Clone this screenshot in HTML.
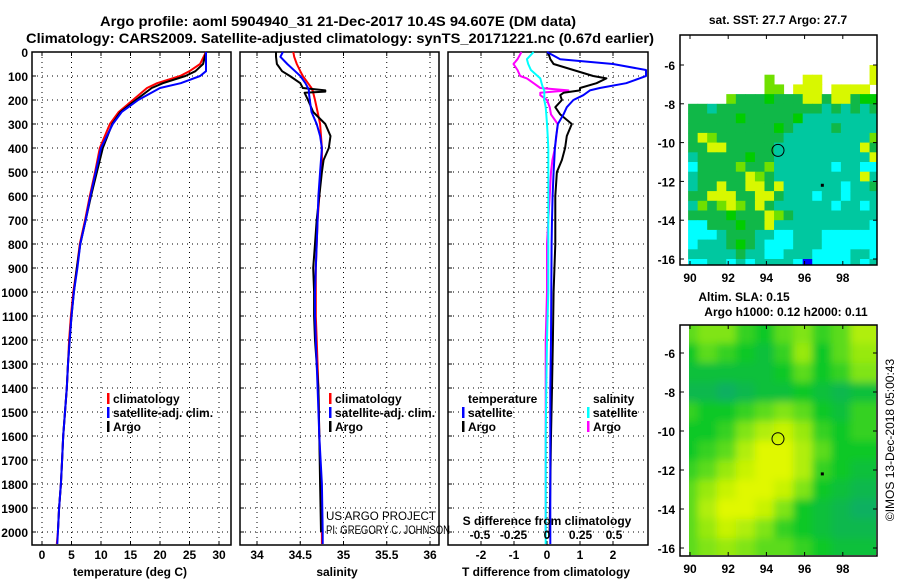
<!DOCTYPE html>
<html><head><meta charset="utf-8">
<style>
html,body{margin:0;padding:0;background:#fff;}
svg{display:block;font-family:"Liberation Sans",sans-serif;}
.b{font-weight:bold;font-size:12px;}
</style></head>
<body>
<svg id="fig" width="900" height="580" viewBox="0 0 900 580">
<text x="338" y="26" text-anchor="middle" font-weight="bold" font-size="14" textLength="476" lengthAdjust="spacingAndGlyphs">Argo profile: aoml 5904940_31 21-Dec-2017 10.4S 94.607E (DM data)</text>
<text x="340" y="43" text-anchor="middle" font-weight="bold" font-size="14" textLength="628" lengthAdjust="spacingAndGlyphs">Climatology: CARS2009. Satellite-adjusted climatology: synTS_20171221.nc (0.67d earlier)</text>
<g id="layer"></g>
</svg>
<script>
// ---------- data ----------
const depthT = [0,50,80,100,130,150,200,250,300,400,500,600,700,800,900,1000,1100,1200,1300,1400,1500,1600,1700,1800,1900,2000,2050];
const tempClim = [27.8,26.8,25,23.4,19.5,17.8,15.4,13,11.5,9.8,9.0,8.1,7.3,6.4,5.9,5.3,4.9,4.6,4.4,4.2,3.9,3.6,3.4,3.2,2.9,2.7,2.5];
const tempSat = [27.8,27.8,27.8,26.8,23.5,20.0,16.3,13.5,12.0,10.0,9.1,8.2,7.4,6.5,6.0,5.4,5.0,4.7,4.4,4.2,3.9,3.6,3.4,3.2,2.9,2.7,2.6];
const tempArgo = [27.8,27.3,26.0,24.3,20.5,18.6,15.9,13.3,11.9,10.3,9.3,8.3,7.4,6.5,5.9,5.4,5.0,4.7,4.4,4.2,3.9,3.6,3.4,3.2,2.9,2.7];
const depthS = [0,20,50,80,100,130,150,160,165,170,200,250,300,350,400,450,500,600,700,800,900,1000,1100,1200,1400,1600,1800,2000,2050];
const salClim = [34.42,34.43,34.46,34.50,34.53,34.59,34.63,34.64,34.65,34.65,34.67,34.70,34.73,34.74,34.75,34.75,34.74,34.72,34.70,34.69,34.68,34.68,34.68,34.69,34.71,34.72,34.74,34.75,34.75];
const salSat = [34.30,34.27,34.35,34.44,34.50,34.56,34.59,34.60,34.60,34.60,34.61,34.63,34.69,34.73,34.75,34.74,34.73,34.71,34.70,34.69,34.68,34.67,34.67,34.68,34.70,34.72,34.75,34.76,34.76];
const salArgo = [34.22,34.22,34.23,34.29,34.38,34.50,34.53,34.79,34.79,34.55,34.59,34.65,34.79,34.85,34.83,34.77,34.75,34.72,34.69,34.67,34.65,34.66,34.66,34.67,34.71,34.72,34.73,34.74];
const depthD = [0,30,50,75,100,110,130,150,160,170,180,200,230,260,300,350,400,450,500,600,700,800,1000,1200,1400,1600,1800,2000,2050];
const dTsat = [0,0.4,2.0,3.0,3.0,2.8,2.4,1.6,1.3,1.2,1.1,0.8,0.6,0.5,0.33,0.28,0.24,0.22,0.2,0.17,0.15,0.14,0.13,0.12,0.1,0.1,0.1,0.1,0.1];
const dTargo = [0.03,0.1,0.2,0.8,1.4,1.8,1.5,1.0,1.0,0.5,0.4,0.45,0.25,0.4,0.75,0.6,0.55,0.45,0.3,0.25,0.25,0.25,0.2,0.18,0.15,0.12,0.1,0.08];
const dSsat = [-0.1,-0.15,-0.14,-0.12,-0.07,-0.05,-0.04,-0.03,-0.02,-0.02,-0.02,-0.02,-0.01,-0.005,0,0.005,0.01,0.01,0.01,0.01,0.01,0.01,0.01,0.0,-0.005,-0.01,-0.01,-0.01,-0.01];
const dSargo = [-0.19,-0.22,-0.25,-0.22,-0.2,-0.15,-0.1,-0.05,0.16,-0.05,-0.05,0.0,0.02,0.03,0.08,0.07,0.06,0.04,0.03,0.02,0.01,0.0,0.0,-0.01,-0.01,-0.01,-0.01,-0.01];
const depthTicks = [0,100,200,300,400,500,600,700,800,900,1000,1100,1200,1300,1400,1500,1600,1700,1800,1900,2000];
const tempTicks = [0,5,10,15,20,25,30];
const salTicks = [34,34.5,35,35.5,36];
const salTickLabels = ["34","34.5","35","35.5","36"];
const dTTicks = [-2,-1,0,1,2];
const dSTicks = [-0.5,-0.25,0,0.25,0.5];
const dSTickLabels = ["-0.5","-0.25","0","0.25","0.5"];
// SST map: rows lat -5.5 .. -16.5 (0.5 deg), cols lon 89.9.. (0.5 deg)
const sstRows = [
"....................",
"...................y",
"........l...yy.....y",
"........ll.yyy.yyyy.",
"....lgggGgggyygyygGG",
"ggtgggggggggggtgtgtg",
"gggggGgggggGtttttttt",
"gggggggggGgttttgtttt",
"gylgggggggtttttttttl",
"ggyygggggtttttttttyg",
"tgggggGggtttttttttty",
"cgggglgglttttttcttcc",
"tgggggylgtttttttttyt",
"tggyggyygyttttttcttg",
"ggyyyggyygtttcttcttt",
"tlglylgygttttttcttct",
"ggggGgggylgttttttttt",
"ccgggGggyttttttttttc",
"ccctgggttcctttcccccc",
"ctttgGgtccctttcccccc",
"tttttgttcctttccccttc",
"ccttctcttttcBcccctct"];
const sstColors = {c:"#00ffff",t:"#00c8a0",g:"#10b848",G:"#00cc00",y:"#d8f800",l:"#70e000",B:"#0000ff"};
// SLA map: rows lat -4.5 .. -16.5 (1 deg), yellowness 0..1
const slaRows = [
[0.5,0.6,0.6,0.4,0.3,0.5,0.6,0.4,0.5,0.8],
[0.3,0.5,0.4,0.3,0.2,0.4,0.7,0.3,0.5,0.7],
[0.2,0.2,0.2,0.2,0.2,0.3,0.5,0.3,0.4,0.6],
[0.1,0.1,0.0,0.1,0.2,0.2,0.3,0.2,0.1,0.2],
[0.4,0.3,0.3,0.4,0.5,0.6,0.5,0.3,0.2,0.4],
[0.3,0.3,0.4,0.6,0.8,0.9,0.7,0.4,0.3,0.4],
[0.3,0.4,0.5,0.8,1.0,1.0,0.8,0.5,0.3,0.3],
[0.4,0.5,0.7,0.9,1.0,1.0,0.8,0.4,0.3,0.2],
[0.5,0.7,0.9,1.0,1.0,0.9,0.6,0.3,0.2,0.1],
[0.5,0.8,1.0,1.0,0.9,0.6,0.3,0.2,0.1,0.0],
[0.5,0.7,0.9,0.8,0.6,0.4,0.3,0.2,0.1,0.1],
[0.5,0.6,0.7,0.6,0.5,0.5,0.4,0.3,0.2,0.2]];
const profilePos = [94.607,-10.4];
const latTicks = [-6,-8,-10,-12,-14,-16];
const lonTicks = [90,92,94,96,98];

// ---------- helpers ----------
const NS="http://www.w3.org/2000/svg";
const layer=document.getElementById('layer');
function mk(tag,attrs,parent){const e=document.createElementNS(NS,tag);for(const k in attrs)e.setAttribute(k,attrs[k]);(parent||layer).appendChild(e);return e;}
const yD = d => 52 + d*0.24;
const xT = t => 42 + t*5.9;
const xS = s => 257 + (s-34)*86.5;
const xDT = v => 547 + v*33;
const xDS = v => 547 + v*134;
const xLon = l => 690 + (l-90)*19.1;
const yLat1 = a => 65 + (-6-a)*19.4;
const yLat2 = a => 353 + (-6-a)*19.5;

function panel(name,x0,x1,gridX){
  const g=mk('g',{});
  
  
  depthTicks.forEach(d=>{const l=mk('line',{x1:x0,x2:x1,y1:yD(d),y2:yD(d),stroke:'#000','stroke-dasharray':'1,4','stroke-width':1},g);
    
    mk('line',{x1:x0,x2:x0+4,y1:yD(d),y2:yD(d),stroke:'#000'},g);});
  gridX.forEach(x=>{const l=mk('line',{x1:x,x2:x,y1:52,y2:545,stroke:'#000','stroke-dasharray':'1,4'},g);
    
    mk('line',{x1:x,x2:x,y1:52,y2:56,stroke:'#000'},g);mk('line',{x1:x,x2:x,y1:541,y2:545,stroke:'#000'},g);});
  const r=mk('rect',{x:x0,y:52,width:x1-x0,height:493,fill:'none',stroke:'#000','stroke-width':1.5},g);
  
  return g;
}
function line(name,xs,ys,xf,color,w){
  let pts=[];for(let i=0;i<xs.length;i++)pts.push(xf(xs[i]).toFixed(1)+','+yD(ys[i]).toFixed(1));
  const p=mk('polyline',{points:pts.join(' '),fill:'none',stroke:color,'stroke-width':w||2,'stroke-linejoin':'round'});
  
}
function txt(s,x,y,attrs,name){const t=mk('text',Object.assign({x:x,y:y},attrs||{}));t.textContent=s;
  return t;}

// panels
panel('temperature-panel',32,231,tempTicks.map(xT));
panel('salinity-panel',240,439,salTicks.map(xS));
panel('difference-panel',448,648,dTTicks.map(xDT));

depthTicks.forEach(d=>txt(String(d),28,yD(d)+5,{class:'b','text-anchor':'end'},'depth-tick-label'));
tempTicks.forEach(t=>txt(String(t),xT(t),559,{class:'b','text-anchor':'middle'},'temp-tick-label'));
salTicks.forEach((s,i)=>txt(salTickLabels[i],xS(s),559,{class:'b','text-anchor':'middle'},'sal-tick-label'));
dTTicks.forEach(v=>txt(String(v),xDT(v),559,{class:'b','text-anchor':'middle'},'dT-tick-label'));
txt('temperature (deg C)',130,576,{class:'b','text-anchor':'middle'},'x-axis-title-temperature');
txt('salinity',337,576,{class:'b','text-anchor':'middle'},'x-axis-title-salinity');
txt('T difference from climatology',546,576,{class:'b','text-anchor':'middle'},'x-axis-title-T-difference');

// series
line('temp-climatology',tempClim,depthT,xT,'#f00');
line('temp-argo',tempArgo,depthT.slice(0,tempArgo.length),xT,'#000');
line('temp-satellite',tempSat,depthT,xT,'#00f');
line('sal-climatology',salClim,depthS,xS,'#f00');
line('sal-argo',salArgo,depthS.slice(0,salArgo.length),xS,'#000');
line('sal-satellite',salSat,depthS,xS,'#00f');
line('dS-argo',dSargo,depthD.slice(0,dSargo.length),xDS,'#f0f');
line('dS-satellite',dSsat,depthD,xDS,'#0ff');
line('dT-argo',dTargo,depthD.slice(0,dTargo.length),xDT,'#000');
line('dT-satellite',dTsat,depthD,xDT,'#00f');

// legends
function legend(x,y,items,name){
  const g=mk('g',{});
  items.forEach((it,i)=>{const yy=y+i*14;
    if(it[1]){const m=mk('rect',{x:x,y:yy-10,width:2.5,height:11,fill:it[1]},g);}
    const t=mk('text',{x:x+6,y:yy,class:'b'},g);t.textContent=it[0];});
}
legend(107,403,[['climatology','#f00'],['satellite-adj. clim.','#00f'],['Argo','#000']],'temp-legend');
legend(329,403,[['climatology','#f00'],['satellite-adj. clim.','#00f'],['Argo','#000']],'sal-legend');
legend(462,403,[['temperature',null],['satellite','#00f'],['Argo','#000']],'dT-legend');
legend(587,403,[['salinity',null],['satellite','#0ff'],['Argo','#f0f']],'dS-legend');

txt('US ARGO PROJECT',326,520,{'font-size':12,textLength:110,lengthAdjust:'spacingAndGlyphs'},'credit-project');
txt('PI: GREGORY C. JOHNSON',326,534,{'font-size':12,textLength:124,lengthAdjust:'spacingAndGlyphs'},'credit-pi');
txt('S difference from climatology',547,525,{class:'b','text-anchor':'middle'},'s-difference-title');
dSTicks.forEach((v,i)=>txt(dSTickLabels[i],xDS(v),539,{class:'b','text-anchor':'middle'},'dS-tick-label'));

// ---------- maps ----------
function mapFrame(name,top,bottom,yLat){
  const g=mk('g',{});
  latTicks.forEach(a=>{const y=yLat(a);mk('line',{x1:680,x2:684,y1:y,y2:y,stroke:'#000'},g);mk('line',{x1:873,x2:877,y1:y,y2:y,stroke:'#000'},g);
    const t=mk('text',{x:675,y:y+5,class:'b','text-anchor':'end'},g);t.textContent=String(a);});
  lonTicks.forEach(l=>{const x=xLon(l);mk('line',{x1:x,x2:x,y1:top,y2:top+4,stroke:'#000'},g);mk('line',{x1:x,x2:x,y1:bottom-4,y2:bottom,stroke:'#000'},g);
    const t=mk('text',{x:x,y:bottom+17,class:'b','text-anchor':'middle'},g);t.textContent=String(l);});
  const r=mk('rect',{x:680,y:top,width:197,height:bottom-top,fill:'none',stroke:'#000','stroke-width':1.5},g);
  
  return g;
}
// SST cells
const sstG=mk('g',{});


sstRows.forEach((row,ri)=>{const latTop=-5.5-ri*0.5;
  for(let ci=0;ci<row.length;ci++){const c=row[ci];if(c==='.')continue;
    const x0=xLon(89.9+ci*0.5),x1=Math.min(xLon(90.4+ci*0.5),876);
    const y0=yLat1(latTop),y1=Math.min(yLat1(latTop-0.5),264);
    const cell=mk('rect',{x:x0,y:y0,width:x1-x0+0.5,height:y1-y0+0.5,fill:sstColors[c]},sstG);
    
    }});
mapFrame('sst-map',35,265,yLat1);
txt('sat. SST: 27.7 Argo: 27.7',778,24,{class:'b','text-anchor':'middle'},'sst-map-title');

// SLA cells
function slaColor(v){const stops=[[0,[16,176,96]],[0.3,[16,200,40]],[0.6,[128,228,20]],[1,[224,248,0]]];
  for(let i=1;i<stops.length;i++){if(v<=stops[i][0]){const a=stops[i-1],b=stops[i],f=(v-a[0])/(b[0]-a[0]);
    return 'rgb('+a[1].map((c,k)=>Math.round(c+(b[1][k]-c)*f)).join(',')+')';}}return 'rgb(224,248,0)';}
mk('clipPath',{id:'slaclip'}).appendChild(document.createElementNS(NS,'rect'));
const cr=document.querySelector('#slaclip rect');cr.setAttribute('x',689);cr.setAttribute('y',325);cr.setAttribute('width',187);cr.setAttribute('height',230);
const defs=mk('defs',{});const flt=mk('filter',{id:'blur',x:'-10%',y:'-10%',width:'120%',height:'120%'},defs);mk('feGaussianBlur',{stdDeviation:4},flt);
const slaOuter=mk('g',{'clip-path':'url(#slaclip)'});
const slaG=mk('g',{filter:'url(#blur)'},slaOuter);


slaRows.forEach((row,ri)=>{const latTop=-4.5-ri;
  row.forEach((v,ci)=>{const x0=xLon(89.4+ci-(ci===0?1:0)),x1=xLon(90.4+ci+(ci===row.length-1?1:0));
    const y0=yLat2(latTop+(ri===0?1:0)),y1=yLat2(latTop-1-(ri===slaRows.length-1?1:0));
    const cell=mk('rect',{x:x0,y:y0,width:x1-x0+0.5,height:y1-y0+0.5,fill:slaColor(v)},slaG);
    
    });});
mapFrame('sla-map',325,556,yLat2);
txt('Altim. SLA: 0.15',744,301,{class:'b','text-anchor':'middle'},'sla-map-title');
txt('Argo h1000: 0.12 h2000: 0.11',786,316,{class:'b','text-anchor':'middle'},'sla-map-subtitle');

// profile markers
[[yLat1],[yLat2]].forEach((f,i)=>{const c=mk('circle',{cx:xLon(profilePos[0]),cy:f[0](profilePos[1]),r:6,fill:'none',stroke:'#000','stroke-width':1});
  
  mk('rect',{x:xLon(96.85),y:f[0](-12.2)-1.5,width:3,height:3,fill:'#000'});});

const w=txt('©IMOS 13-Dec-2018 05:00:43',0,0,{'font-size':12,'text-anchor':'middle',transform:'translate(894,440) rotate(-90)'},'imos-watermark');
</script>
</body></html>
